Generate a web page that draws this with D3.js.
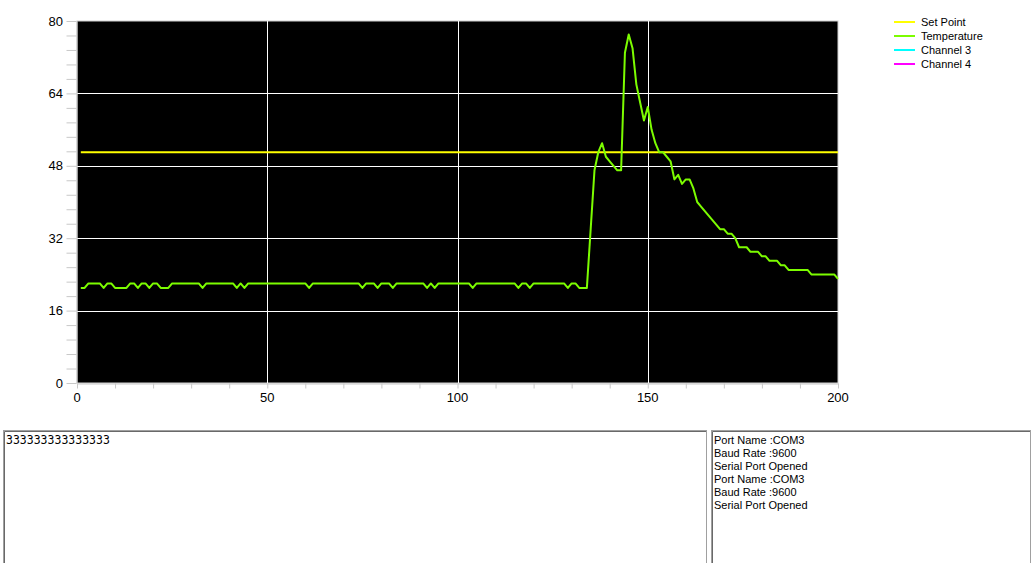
<!DOCTYPE html>
<html>
<head>
<meta charset="utf-8">
<script src="https://cdn.jsdelivr.net/npm/d3@7"></script>
<style>
  body { margin: 0; background: #fff; }
  text { font-family: "Liberation Sans", Arial, sans-serif; }
</style>
</head>
<body>
<svg id="chart" width="1031" height="563"></svg>
<script>
// x labels / y labels
const xTicks = [0, 50, 100, 150, 200];
const yTicks = [0, 16, 32, 48, 64, 80];

// temperature samples, one per x step starting at 1
const temperature = [
  21, 21, 22, 22, 22, 22, 21, 22, 22, 21,
  21, 21, 21, 22, 22, 21, 22, 22, 21, 22,
  22, 21, 21, 21, 22, 22, 22, 22, 22, 22,
  22, 22, 21, 22, 22, 22, 22, 22, 22, 22,
  22, 21, 22, 21, 22, 22, 22, 22, 22, 22,
  22, 22, 22, 22, 22, 22, 22, 22, 22, 22,
  21, 22, 22, 22, 22, 22, 22, 22, 22, 22,
  22, 22, 22, 22, 21, 22, 22, 22, 21, 22,
  22, 22, 21, 22, 22, 22, 22, 22, 22, 22,
  22, 21, 22, 21, 22, 22, 22, 22, 22, 22,
  22, 22, 22, 21, 22, 22, 22, 22, 22, 22,
  22, 22, 22, 22, 22, 21, 22, 22, 21, 22,
  22, 22, 22, 22, 22, 22, 22, 22, 21, 22,
  22, 21, 21, 21, 34, 47, 51, 53, 50, 49,
  48, 47, 47, 73, 77, 74, 66, 62, 58, 61,
  56, 53, 51, 51, 50, 49, 45, 46, 44, 45,
  45, 43, 40, 39, 38, 37, 36, 35, 34, 34,
  33, 33, 32, 30, 30, 30, 29, 29, 29, 28,
  28, 27, 27, 27, 26, 26, 25, 25, 25, 25,
  25, 25, 24, 24, 24, 24, 24, 24, 24, 23
];
const setPointX = [1, 200];
const setPointY = [51, 51];

const legendNames = ['Set Point', 'Temperature', 'Channel 3', 'Channel 4'];
const legendColors = ['#ffff00', '#7cfc00', '#00ffff', '#ff00ff'];

const consoleLines = ['333333333333333'];
const logLines = [
  'Port Name :COM3', 'Baud Rate :9600', 'Serial Port Opened',
  'Port Name :COM3', 'Baud Rate :9600', 'Serial Port Opened'
];

const svg = d3.select('#chart');
const plot = { left: 77, right: 838, top: 21, bottom: 383 };

const x = d3.scaleLinear().domain([0, 200]).range([plot.left, plot.right]);
const y = d3.scaleLinear().domain([0, 80]).range([plot.bottom, plot.top]);

// plot background
svg.append('rect')
  .attr('x', plot.left).attr('y', plot.top)
  .attr('width', plot.right - plot.left).attr('height', plot.bottom - plot.top)
  .attr('fill', '#000')
  .attr('stroke', '#d0d0d0');

// grid
svg.append('g').selectAll('line')
  .data(xTicks.slice(1, -1))
  .enter().append('line')
  .attr('x1', (d) => Math.round(x(d)) + 0.5).attr('x2', (d) => Math.round(x(d)) + 0.5)
  .attr('y1', plot.top).attr('y2', plot.bottom)
  .attr('stroke', '#fff');

svg.append('g').selectAll('line')
  .data(yTicks.slice(1, -1))
  .enter().append('line')
  .attr('x1', plot.left).attr('x2', plot.right)
  .attr('y1', (d) => Math.round(y(d)) + 0.5).attr('y2', (d) => Math.round(y(d)) + 0.5)
  .attr('stroke', '#fff');

// axes (minor ticks)
const yMinor = d3.range(0, 81, 3.2);
const yAxis = svg.append('g')
  .attr('transform', `translate(${plot.left - 0.5},0)`)
  .call(d3.axisLeft(y).tickValues(yMinor).tickSize(10).tickSizeOuter(0).tickFormat(''));
yAxis.selectAll('path, line').attr('stroke', '#c8c8c8');

const xMinor = d3.range(0, 201, 10);
const xAxis = svg.append('g')
  .attr('transform', `translate(0,${plot.bottom + 0.5})`)
  .call(d3.axisBottom(x).tickValues(xMinor).tickSize(5).tickSizeOuter(0).tickFormat(''));
xAxis.selectAll('path, line').attr('stroke', '#c8c8c8');

// tick labels
svg.append('g').selectAll('text')
  .data(yTicks)
  .enter().append('text')
  .attr('x', 63)
  .attr('y', (d) => y(d) + 4.5)
  .attr('text-anchor', 'end')
  .attr('font-size', 13)
  .attr('fill', '#000')
  .text((d) => d);

svg.append('g').selectAll('text')
  .data(xTicks)
  .enter().append('text')
  .attr('x', (d) => x(d))
  .attr('y', 402)
  .attr('text-anchor', 'middle')
  .attr('font-size', 13)
  .attr('fill', '#000')
  .text((d) => d);

// series
const line = d3.line().x((d) => x(d[0])).y((d) => y(d[1]));

svg.append('path')
  .attr('d', line(setPointX.map((v, i) => [v, setPointY[i]])))
  .attr('stroke', legendColors[0])
  .attr('stroke-width', 2)
  .attr('fill', 'none');

svg.append('path')
  .attr('d', line(temperature.map((v, i) => [i + 1, v])))
  .attr('stroke', legendColors[1])
  .attr('stroke-width', 2)
  .attr('stroke-linejoin', 'round')
  .attr('fill', 'none');

// legend
const legend = svg.append('g').selectAll('g')
  .data(legendNames)
  .enter().append('g')
  .attr('transform', (d, i) => `translate(894,${22 + i * 14})`);

legend.append('line')
  .attr('x1', 0).attr('x2', 21)
  .attr('stroke', (d, i) => legendColors[i])
  .attr('stroke-width', 2);

legend.append('text')
  .attr('x', 27).attr('y', 4)
  .attr('font-size', 11)
  .attr('fill', '#000')
  .text((d) => d);

// text boxes below the chart
function box(x0, x1) {
  const g = svg.append('g');
  g.append('rect')
    .attr('x', x0 + 0.5).attr('y', 430.5)
    .attr('width', x1 - x0).attr('height', 140)
    .attr('fill', '#fff')
    .attr('stroke', '#a0a0a0');
  g.append('path')
    .attr('d', `M${x0 + 1.5},570 V431.5 H${x1}`)
    .attr('stroke', '#696969')
    .attr('fill', 'none');
  return g;
}

box(3, 706).selectAll('text')
  .data(consoleLines)
  .enter().append('text')
  .attr('x', 6).attr('y', (d, i) => 444 + i * 13)
  .attr('font-family', '"DejaVu Sans Mono", monospace')
  .style('font-family', '"DejaVu Sans Mono", monospace')
  .attr('font-size', 11.5)
  .text((d) => d);

box(711, 1030).selectAll('text')
  .data(logLines)
  .enter().append('text')
  .attr('x', 714).attr('y', (d, i) => 444 + i * 13)
  .attr('font-size', 11)
  .text((d) => d);
</script>
</body>
</html>
